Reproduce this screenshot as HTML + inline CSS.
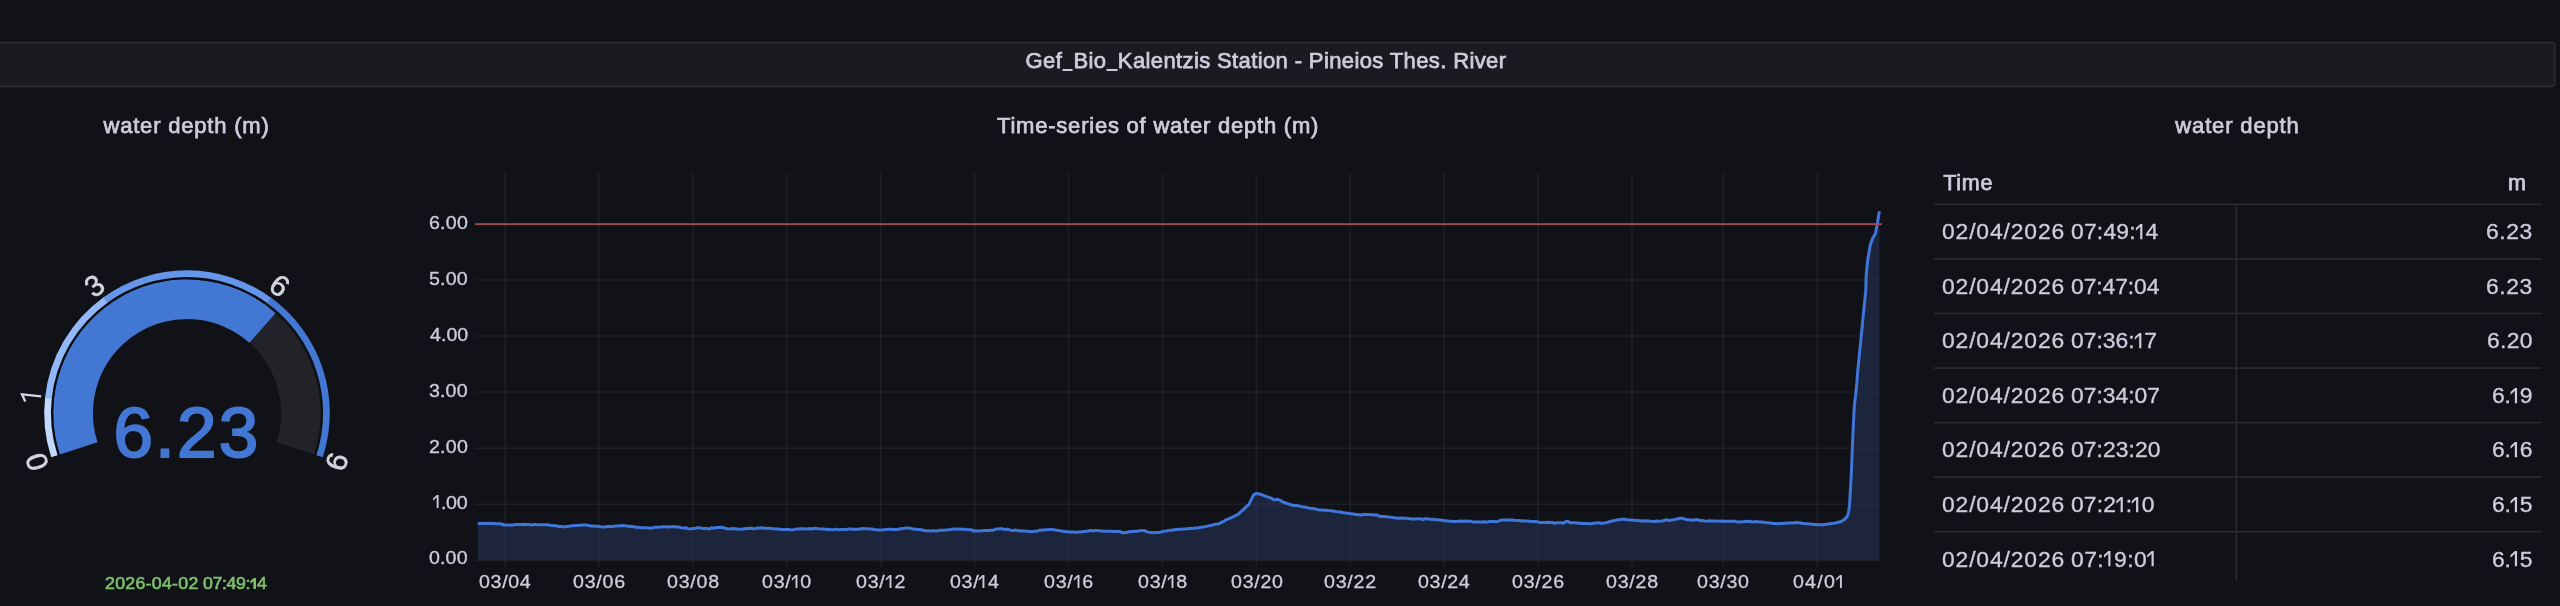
<!DOCTYPE html>
<html><head><meta charset="utf-8"><title>Grafana</title>
<style>
html,body{margin:0;padding:0;background:#111217;}
body{width:2560px;height:606px;position:relative;overflow:hidden;font-family:"Liberation Sans",sans-serif;}
#w{position:absolute;left:0;top:0;width:2560px;height:606px;will-change:transform;}
svg{position:absolute;left:0;top:0;}
svg text{font-family:"Liberation Sans",sans-serif;}
.b{display:inline-block;line-height:0;vertical-align:baseline;}
.u{display:inline-block;width:0.5em;height:0;position:relative;vertical-align:baseline;margin-right:0.38px;}
.u i{position:absolute;left:0.01em;right:0.01em;top:0.04em;height:0.088em;background:currentColor;}
.o{display:inline-block;height:0;position:relative;vertical-align:baseline;}
.o svg{position:absolute;left:0;top:auto;bottom:0;width:100%;overflow:visible;fill:currentColor;}
</style></head><body><div id="w">
<svg width="2560" height="606" viewBox="0 0 2560 606">
<rect x="-23" y="42.5" width="2577.8" height="44" rx="3" fill="#1a1b20" stroke="#2e2f35" stroke-width="1.5"/>
<rect x="475.2" y="559.60" width="1406.8" height="1.6" fill="rgba(235,240,255,0.06)"/>
<rect x="475.2" y="503.50" width="1406.8" height="1.6" fill="rgba(235,240,255,0.06)"/>
<rect x="475.2" y="447.40" width="1406.8" height="1.6" fill="rgba(235,240,255,0.06)"/>
<rect x="475.2" y="391.30" width="1406.8" height="1.6" fill="rgba(235,240,255,0.06)"/>
<rect x="475.2" y="335.20" width="1406.8" height="1.6" fill="rgba(235,240,255,0.06)"/>
<rect x="475.2" y="279.10" width="1406.8" height="1.6" fill="rgba(235,240,255,0.06)"/>
<rect x="475.2" y="223.00" width="1406.8" height="1.6" fill="rgba(235,240,255,0.06)"/>
<rect x="504.17" y="173.2" width="1.6" height="392.8" fill="rgba(235,240,255,0.06)"/>
<rect x="598.09" y="173.2" width="1.6" height="392.8" fill="rgba(235,240,255,0.06)"/>
<rect x="692.01" y="173.2" width="1.6" height="392.8" fill="rgba(235,240,255,0.06)"/>
<rect x="785.93" y="173.2" width="1.6" height="392.8" fill="rgba(235,240,255,0.06)"/>
<rect x="879.85" y="173.2" width="1.6" height="392.8" fill="rgba(235,240,255,0.06)"/>
<rect x="973.77" y="173.2" width="1.6" height="392.8" fill="rgba(235,240,255,0.06)"/>
<rect x="1067.69" y="173.2" width="1.6" height="392.8" fill="rgba(235,240,255,0.06)"/>
<rect x="1161.61" y="173.2" width="1.6" height="392.8" fill="rgba(235,240,255,0.06)"/>
<rect x="1255.53" y="173.2" width="1.6" height="392.8" fill="rgba(235,240,255,0.06)"/>
<rect x="1349.45" y="173.2" width="1.6" height="392.8" fill="rgba(235,240,255,0.06)"/>
<rect x="1443.37" y="173.2" width="1.6" height="392.8" fill="rgba(235,240,255,0.06)"/>
<rect x="1537.29" y="173.2" width="1.6" height="392.8" fill="rgba(235,240,255,0.06)"/>
<rect x="1631.21" y="173.2" width="1.6" height="392.8" fill="rgba(235,240,255,0.06)"/>
<rect x="1722.40" y="173.2" width="1.6" height="392.8" fill="rgba(235,240,255,0.06)"/>
<rect x="1816.30" y="173.2" width="1.6" height="392.8" fill="rgba(235,240,255,0.06)"/>
<path d="M477.8 523.4 L480.4 523.4 L483.1 523.5 L485.3 523.3 L487.7 523.5 L490.1 523.2 L492.1 523.4 L494.3 523.5 L496.7 523.7 L499.1 523.8 L501.6 524.0 L503.9 525.0 L506.6 524.9 L508.6 525.0 L510.7 525.0 L512.9 525.0 L515.2 524.4 L517.1 524.6 L519.5 524.6 L521.9 524.6 L524.2 524.3 L526.1 524.4 L528.9 524.4 L531.0 525.1 L533.3 524.6 L535.9 524.6 L538.1 524.8 L540.3 524.7 L542.9 524.8 L545.1 524.7 L547.9 524.7 L549.9 525.2 L552.0 525.5 L554.4 525.8 L556.7 525.7 L558.5 526.6 L560.4 526.6 L562.3 526.4 L564.5 527.1 L566.4 526.3 L568.2 526.5 L570.2 525.9 L572.1 525.8 L574.4 525.6 L576.9 525.4 L579.4 525.2 L581.6 525.1 L584.1 524.9 L586.3 525.0 L588.6 525.6 L591.2 526.0 L593.3 526.1 L595.3 526.3 L598.0 526.3 L600.8 526.7 L603.6 527.0 L605.6 526.7 L607.6 526.6 L610.3 526.5 L612.7 526.4 L615.3 526.1 L617.9 525.9 L620.6 525.7 L623.2 525.5 L625.1 525.7 L627.1 526.0 L629.5 526.4 L631.4 526.3 L633.7 526.8 L635.7 527.3 L638.1 527.3 L640.0 527.5 L642.3 527.7 L644.6 527.8 L646.4 527.8 L648.2 527.9 L650.5 528.0 L652.6 527.9 L655.2 527.1 L657.0 527.2 L658.8 527.3 L661.0 527.1 L663.0 526.8 L665.6 526.7 L667.9 527.1 L670.1 526.8 L672.3 526.7 L674.3 526.6 L676.8 527.0 L679.0 527.0 L681.3 527.7 L684.1 528.0 L686.3 527.8 L688.4 528.8 L690.8 528.9 L692.9 528.4 L694.8 528.6 L697.5 527.8 L700.1 527.7 L702.3 528.6 L704.7 528.5 L706.7 528.5 L709.4 528.9 L711.3 527.7 L713.4 528.2 L716.2 527.5 L718.7 527.5 L720.8 527.3 L723.2 527.6 L725.4 528.2 L728.2 529.1 L730.5 528.9 L732.6 528.5 L735.0 528.7 L737.8 529.0 L740.4 529.2 L742.6 529.3 L744.6 528.8 L747.0 528.6 L749.8 528.4 L751.6 528.1 L753.5 528.7 L755.5 528.5 L757.7 528.1 L759.9 528.1 L762.2 527.7 L764.4 528.4 L766.5 528.2 L769.1 528.3 L771.8 528.7 L773.9 528.8 L776.5 528.9 L778.7 529.0 L781.4 529.4 L784.0 529.5 L786.5 529.6 L788.4 529.6 L790.3 529.8 L792.7 529.9 L795.0 529.3 L797.3 529.1 L799.1 529.0 L801.0 528.8 L803.0 528.8 L805.3 529.1 L807.9 529.0 L809.8 528.5 L811.9 529.2 L813.7 528.3 L816.2 528.5 L818.5 528.8 L821.2 528.9 L824.0 529.0 L826.6 529.4 L828.7 529.3 L830.7 529.6 L833.4 529.7 L835.7 529.1 L838.0 529.9 L840.3 529.4 L842.2 529.4 L844.9 529.4 L846.8 529.3 L849.5 529.0 L851.7 529.0 L853.9 529.4 L855.7 529.2 L857.7 529.2 L859.8 529.0 L862.0 528.6 L864.4 528.7 L866.9 528.8 L869.3 528.9 L872.1 529.0 L874.2 529.7 L876.3 529.8 L878.6 529.9 L880.6 529.9 L882.9 529.7 L885.1 529.4 L887.0 529.4 L889.1 529.3 L891.7 529.2 L894.0 529.5 L895.8 529.4 L897.7 529.4 L900.4 528.7 L902.6 528.6 L905.3 528.1 L908.0 528.1 L909.8 528.2 L912.4 528.9 L914.3 529.1 L917.1 529.4 L919.6 529.6 L921.5 529.8 L924.2 530.6 L926.5 530.7 L928.4 530.8 L930.4 530.9 L932.2 530.8 L934.3 530.6 L936.7 531.1 L938.9 530.3 L940.9 530.3 L943.1 530.2 L945.6 530.1 L947.8 529.8 L950.4 529.7 L952.4 529.0 L955.1 529.0 L957.5 529.3 L960.2 529.0 L962.3 529.3 L964.1 529.2 L966.8 529.6 L969.6 529.7 L971.6 529.8 L973.4 530.9 L975.7 530.8 L977.5 531.0 L979.9 530.9 L982.5 530.7 L984.4 530.6 L986.6 530.5 L988.9 530.4 L991.3 530.2 L993.6 530.2 L995.6 529.0 L998.3 528.9 L1000.8 528.7 L1002.6 528.8 L1005.1 529.7 L1007.1 529.1 L1009.9 529.9 L1011.8 530.6 L1014.5 530.1 L1016.5 530.2 L1018.7 530.7 L1020.7 530.8 L1023.0 530.9 L1024.9 531.0 L1026.9 531.2 L1029.7 531.4 L1031.9 531.7 L1034.4 531.3 L1036.5 531.3 L1039.0 530.3 L1041.0 530.3 L1043.1 530.0 L1045.4 529.8 L1047.9 529.8 L1050.1 529.6 L1052.2 529.5 L1055.0 529.9 L1057.2 530.2 L1059.2 530.4 L1061.1 531.0 L1063.3 531.2 L1065.1 531.5 L1067.7 531.8 L1069.9 532.0 L1071.7 532.1 L1073.9 532.0 L1076.4 532.2 L1079.2 532.1 L1081.0 531.9 L1083.3 531.6 L1085.9 531.5 L1088.1 530.9 L1090.7 530.6 L1092.9 531.0 L1095.3 530.4 L1097.2 530.5 L1099.5 530.8 L1102.2 530.9 L1104.8 531.2 L1106.7 531.3 L1109.0 531.2 L1111.7 531.3 L1113.7 531.4 L1115.9 531.5 L1117.9 531.5 L1120.2 531.6 L1122.2 532.7 L1124.8 532.5 L1126.7 532.5 L1129.1 531.8 L1131.3 531.6 L1133.3 531.4 L1135.6 531.3 L1138.2 531.2 L1140.4 530.4 L1143.0 530.6 L1144.8 530.7 L1147.0 531.9 L1149.7 532.4 L1151.5 532.4 L1154.0 532.7 L1156.7 532.6 L1159.3 532.6 L1161.3 531.8 L1164.0 531.3 L1165.9 531.0 L1167.9 530.6 L1170.0 530.2 L1172.0 530.2 L1174.7 529.6 L1177.1 529.4 L1179.5 529.3 L1181.4 529.2 L1183.6 529.1 L1185.5 528.9 L1187.6 528.7 L1189.7 528.5 L1192.4 528.5 L1194.4 528.1 L1196.7 527.9 L1199.0 527.7 L1200.8 527.3 L1203.1 527.0 L1205.1 526.6 L1207.0 526.2 L1209.5 525.6 L1212.0 525.2 L1214.8 524.4 L1217.2 523.9 L1219.4 523.7 L1221.3 522.3 L1223.3 521.7 L1225.7 519.9 L1227.9 519.1 L1230.1 518.1 L1232.0 517.3 L1234.5 516.1 L1236.7 515.2 L1238.6 513.9 L1241.3 511.3 L1244.0 509.0 L1246.1 506.7 L1248.6 504.9 L1251.3 499.8 L1253.6 494.8 L1256.3 493.4 L1259.0 493.8 L1261.4 494.7 L1264.1 495.6 L1266.6 496.6 L1269.1 497.4 L1271.1 498.1 L1273.8 499.7 L1275.7 499.8 L1277.7 499.3 L1280.1 500.3 L1282.0 501.6 L1284.3 502.5 L1286.9 503.5 L1288.9 504.0 L1291.7 505.1 L1293.8 505.4 L1296.3 505.4 L1298.1 505.8 L1300.7 506.4 L1303.4 507.1 L1305.8 507.3 L1307.7 507.8 L1310.1 508.2 L1312.5 508.4 L1314.8 508.7 L1316.7 509.4 L1319.3 509.9 L1322.0 510.0 L1324.0 510.2 L1326.0 510.2 L1328.6 510.6 L1330.8 510.8 L1333.4 511.1 L1335.3 511.4 L1338.0 511.9 L1340.7 512.0 L1343.0 512.8 L1345.1 512.9 L1347.6 513.2 L1349.8 513.6 L1351.7 513.8 L1353.8 514.1 L1356.3 514.4 L1358.8 514.8 L1360.8 515.1 L1363.6 514.5 L1365.8 514.6 L1368.3 514.6 L1370.7 514.7 L1372.6 514.8 L1375.1 515.0 L1377.3 515.0 L1379.5 516.3 L1381.9 516.4 L1383.9 516.5 L1386.5 516.8 L1389.0 517.1 L1391.4 517.3 L1394.0 517.7 L1396.0 517.9 L1398.4 518.2 L1401.2 517.9 L1403.5 518.2 L1405.8 518.3 L1408.5 518.4 L1410.9 519.0 L1413.4 519.0 L1415.6 519.1 L1418.1 518.8 L1420.8 518.8 L1422.9 519.5 L1425.1 518.8 L1427.3 518.8 L1429.8 519.2 L1431.8 519.2 L1434.4 519.6 L1436.7 519.7 L1439.5 519.9 L1442.1 520.2 L1444.2 520.7 L1446.8 520.8 L1449.2 521.2 L1451.5 521.3 L1453.6 521.4 L1455.5 521.6 L1457.6 521.5 L1460.0 521.1 L1462.4 521.2 L1464.3 521.2 L1466.6 521.1 L1468.6 521.2 L1470.5 521.2 L1473.1 522.0 L1475.1 522.1 L1477.7 522.1 L1480.0 521.9 L1482.0 521.9 L1484.2 521.8 L1486.5 522.3 L1489.2 521.4 L1491.6 521.4 L1493.9 521.4 L1496.3 521.9 L1498.7 521.1 L1500.8 520.2 L1502.8 520.1 L1504.7 520.0 L1506.8 520.1 L1509.6 519.9 L1511.6 519.7 L1513.8 520.3 L1516.4 520.5 L1518.7 520.5 L1521.2 520.7 L1523.1 521.0 L1525.5 521.0 L1527.4 521.0 L1529.7 521.3 L1532.0 521.4 L1533.9 521.5 L1536.6 521.6 L1539.0 522.2 L1540.9 522.5 L1543.3 522.5 L1545.9 522.5 L1547.7 522.3 L1550.1 522.5 L1552.4 522.5 L1554.7 523.4 L1556.8 522.7 L1559.6 522.7 L1561.5 522.7 L1563.5 523.3 L1566.0 521.6 L1568.2 521.6 L1570.5 522.8 L1573.0 522.7 L1575.6 522.8 L1577.9 523.2 L1579.7 523.1 L1582.2 523.5 L1584.3 523.6 L1587.0 523.5 L1589.5 523.8 L1592.3 523.4 L1594.9 523.1 L1597.1 522.9 L1599.2 522.8 L1601.7 523.5 L1603.5 523.1 L1605.9 522.8 L1608.1 522.2 L1610.1 521.5 L1612.2 520.9 L1614.7 520.5 L1616.7 520.1 L1618.6 519.8 L1621.0 519.4 L1623.5 519.0 L1625.9 519.4 L1628.0 519.7 L1630.5 519.9 L1633.1 520.1 L1635.8 520.5 L1638.1 520.6 L1640.1 520.7 L1642.2 521.0 L1644.6 520.8 L1646.7 521.0 L1649.3 521.0 L1651.5 521.3 L1654.3 521.4 L1656.6 521.1 L1658.9 521.2 L1661.5 521.0 L1663.3 520.8 L1665.2 520.0 L1667.4 520.0 L1669.3 520.6 L1671.2 520.1 L1673.1 519.9 L1675.1 519.4 L1677.1 519.0 L1679.9 518.2 L1682.5 518.3 L1685.0 519.1 L1687.6 519.7 L1689.7 519.8 L1691.6 520.0 L1693.5 520.2 L1695.5 519.6 L1698.1 519.8 L1700.0 520.6 L1702.2 520.6 L1704.9 521.0 L1707.0 521.2 L1709.5 520.8 L1712.0 521.1 L1714.6 521.1 L1716.6 521.1 L1718.7 521.2 L1721.4 521.1 L1723.3 521.3 L1725.3 521.2 L1727.4 521.2 L1729.4 521.2 L1731.6 521.2 L1734.4 521.2 L1736.6 521.8 L1739.2 521.9 L1741.4 521.7 L1743.5 521.7 L1745.8 521.2 L1747.7 521.4 L1749.7 521.3 L1752.3 522.1 L1754.7 521.6 L1757.5 521.8 L1759.5 522.0 L1761.4 522.1 L1763.4 522.3 L1765.7 522.6 L1768.1 522.7 L1770.4 523.1 L1773.0 523.5 L1775.5 523.4 L1778.2 523.7 L1780.5 523.5 L1782.3 523.6 L1784.3 523.3 L1786.9 523.2 L1789.4 522.8 L1791.8 522.9 L1793.7 522.9 L1795.5 522.6 L1797.8 522.8 L1799.8 522.8 L1801.7 523.3 L1804.3 523.6 L1806.6 523.8 L1808.8 524.1 L1810.9 524.1 L1813.1 524.5 L1815.0 524.6 L1817.7 524.7 L1820.1 524.6 L1822.0 525.1 L1824.0 524.4 L1826.7 524.3 L1829.4 523.8 L1832.1 523.6 L1834.7 523.1 L1836.5 522.8 L1838.4 522.3 L1841.1 521.5 L1844.0 519.8 L1846.0 517.9 L1847.6 515.5 L1848.5 512.9 L1849.6 504.7 L1850.6 486.5 L1851.5 470.0 L1851.9 459.3 L1852.9 434.5 L1854.3 406.5 L1856.7 385.0 L1857.6 372.5 L1860.9 339.5 L1863.3 314.8 L1865.8 290.0 L1866.1 277.5 L1867.5 261.0 L1870.4 244.5 L1872.5 238.5 L1875.4 233.8 L1877.4 223.0 L1879.4 211.2 L1879.4 559.8 L477.8 559.8 Z" fill="rgb(39,55,98)" fill-opacity="0.5"/>
<path d="M477.8 523.4 L480.4 523.4 L483.1 523.5 L485.3 523.3 L487.7 523.5 L490.1 523.2 L492.1 523.4 L494.3 523.5 L496.7 523.7 L499.1 523.8 L501.6 524.0 L503.9 525.0 L506.6 524.9 L508.6 525.0 L510.7 525.0 L512.9 525.0 L515.2 524.4 L517.1 524.6 L519.5 524.6 L521.9 524.6 L524.2 524.3 L526.1 524.4 L528.9 524.4 L531.0 525.1 L533.3 524.6 L535.9 524.6 L538.1 524.8 L540.3 524.7 L542.9 524.8 L545.1 524.7 L547.9 524.7 L549.9 525.2 L552.0 525.5 L554.4 525.8 L556.7 525.7 L558.5 526.6 L560.4 526.6 L562.3 526.4 L564.5 527.1 L566.4 526.3 L568.2 526.5 L570.2 525.9 L572.1 525.8 L574.4 525.6 L576.9 525.4 L579.4 525.2 L581.6 525.1 L584.1 524.9 L586.3 525.0 L588.6 525.6 L591.2 526.0 L593.3 526.1 L595.3 526.3 L598.0 526.3 L600.8 526.7 L603.6 527.0 L605.6 526.7 L607.6 526.6 L610.3 526.5 L612.7 526.4 L615.3 526.1 L617.9 525.9 L620.6 525.7 L623.2 525.5 L625.1 525.7 L627.1 526.0 L629.5 526.4 L631.4 526.3 L633.7 526.8 L635.7 527.3 L638.1 527.3 L640.0 527.5 L642.3 527.7 L644.6 527.8 L646.4 527.8 L648.2 527.9 L650.5 528.0 L652.6 527.9 L655.2 527.1 L657.0 527.2 L658.8 527.3 L661.0 527.1 L663.0 526.8 L665.6 526.7 L667.9 527.1 L670.1 526.8 L672.3 526.7 L674.3 526.6 L676.8 527.0 L679.0 527.0 L681.3 527.7 L684.1 528.0 L686.3 527.8 L688.4 528.8 L690.8 528.9 L692.9 528.4 L694.8 528.6 L697.5 527.8 L700.1 527.7 L702.3 528.6 L704.7 528.5 L706.7 528.5 L709.4 528.9 L711.3 527.7 L713.4 528.2 L716.2 527.5 L718.7 527.5 L720.8 527.3 L723.2 527.6 L725.4 528.2 L728.2 529.1 L730.5 528.9 L732.6 528.5 L735.0 528.7 L737.8 529.0 L740.4 529.2 L742.6 529.3 L744.6 528.8 L747.0 528.6 L749.8 528.4 L751.6 528.1 L753.5 528.7 L755.5 528.5 L757.7 528.1 L759.9 528.1 L762.2 527.7 L764.4 528.4 L766.5 528.2 L769.1 528.3 L771.8 528.7 L773.9 528.8 L776.5 528.9 L778.7 529.0 L781.4 529.4 L784.0 529.5 L786.5 529.6 L788.4 529.6 L790.3 529.8 L792.7 529.9 L795.0 529.3 L797.3 529.1 L799.1 529.0 L801.0 528.8 L803.0 528.8 L805.3 529.1 L807.9 529.0 L809.8 528.5 L811.9 529.2 L813.7 528.3 L816.2 528.5 L818.5 528.8 L821.2 528.9 L824.0 529.0 L826.6 529.4 L828.7 529.3 L830.7 529.6 L833.4 529.7 L835.7 529.1 L838.0 529.9 L840.3 529.4 L842.2 529.4 L844.9 529.4 L846.8 529.3 L849.5 529.0 L851.7 529.0 L853.9 529.4 L855.7 529.2 L857.7 529.2 L859.8 529.0 L862.0 528.6 L864.4 528.7 L866.9 528.8 L869.3 528.9 L872.1 529.0 L874.2 529.7 L876.3 529.8 L878.6 529.9 L880.6 529.9 L882.9 529.7 L885.1 529.4 L887.0 529.4 L889.1 529.3 L891.7 529.2 L894.0 529.5 L895.8 529.4 L897.7 529.4 L900.4 528.7 L902.6 528.6 L905.3 528.1 L908.0 528.1 L909.8 528.2 L912.4 528.9 L914.3 529.1 L917.1 529.4 L919.6 529.6 L921.5 529.8 L924.2 530.6 L926.5 530.7 L928.4 530.8 L930.4 530.9 L932.2 530.8 L934.3 530.6 L936.7 531.1 L938.9 530.3 L940.9 530.3 L943.1 530.2 L945.6 530.1 L947.8 529.8 L950.4 529.7 L952.4 529.0 L955.1 529.0 L957.5 529.3 L960.2 529.0 L962.3 529.3 L964.1 529.2 L966.8 529.6 L969.6 529.7 L971.6 529.8 L973.4 530.9 L975.7 530.8 L977.5 531.0 L979.9 530.9 L982.5 530.7 L984.4 530.6 L986.6 530.5 L988.9 530.4 L991.3 530.2 L993.6 530.2 L995.6 529.0 L998.3 528.9 L1000.8 528.7 L1002.6 528.8 L1005.1 529.7 L1007.1 529.1 L1009.9 529.9 L1011.8 530.6 L1014.5 530.1 L1016.5 530.2 L1018.7 530.7 L1020.7 530.8 L1023.0 530.9 L1024.9 531.0 L1026.9 531.2 L1029.7 531.4 L1031.9 531.7 L1034.4 531.3 L1036.5 531.3 L1039.0 530.3 L1041.0 530.3 L1043.1 530.0 L1045.4 529.8 L1047.9 529.8 L1050.1 529.6 L1052.2 529.5 L1055.0 529.9 L1057.2 530.2 L1059.2 530.4 L1061.1 531.0 L1063.3 531.2 L1065.1 531.5 L1067.7 531.8 L1069.9 532.0 L1071.7 532.1 L1073.9 532.0 L1076.4 532.2 L1079.2 532.1 L1081.0 531.9 L1083.3 531.6 L1085.9 531.5 L1088.1 530.9 L1090.7 530.6 L1092.9 531.0 L1095.3 530.4 L1097.2 530.5 L1099.5 530.8 L1102.2 530.9 L1104.8 531.2 L1106.7 531.3 L1109.0 531.2 L1111.7 531.3 L1113.7 531.4 L1115.9 531.5 L1117.9 531.5 L1120.2 531.6 L1122.2 532.7 L1124.8 532.5 L1126.7 532.5 L1129.1 531.8 L1131.3 531.6 L1133.3 531.4 L1135.6 531.3 L1138.2 531.2 L1140.4 530.4 L1143.0 530.6 L1144.8 530.7 L1147.0 531.9 L1149.7 532.4 L1151.5 532.4 L1154.0 532.7 L1156.7 532.6 L1159.3 532.6 L1161.3 531.8 L1164.0 531.3 L1165.9 531.0 L1167.9 530.6 L1170.0 530.2 L1172.0 530.2 L1174.7 529.6 L1177.1 529.4 L1179.5 529.3 L1181.4 529.2 L1183.6 529.1 L1185.5 528.9 L1187.6 528.7 L1189.7 528.5 L1192.4 528.5 L1194.4 528.1 L1196.7 527.9 L1199.0 527.7 L1200.8 527.3 L1203.1 527.0 L1205.1 526.6 L1207.0 526.2 L1209.5 525.6 L1212.0 525.2 L1214.8 524.4 L1217.2 523.9 L1219.4 523.7 L1221.3 522.3 L1223.3 521.7 L1225.7 519.9 L1227.9 519.1 L1230.1 518.1 L1232.0 517.3 L1234.5 516.1 L1236.7 515.2 L1238.6 513.9 L1241.3 511.3 L1244.0 509.0 L1246.1 506.7 L1248.6 504.9 L1251.3 499.8 L1253.6 494.8 L1256.3 493.4 L1259.0 493.8 L1261.4 494.7 L1264.1 495.6 L1266.6 496.6 L1269.1 497.4 L1271.1 498.1 L1273.8 499.7 L1275.7 499.8 L1277.7 499.3 L1280.1 500.3 L1282.0 501.6 L1284.3 502.5 L1286.9 503.5 L1288.9 504.0 L1291.7 505.1 L1293.8 505.4 L1296.3 505.4 L1298.1 505.8 L1300.7 506.4 L1303.4 507.1 L1305.8 507.3 L1307.7 507.8 L1310.1 508.2 L1312.5 508.4 L1314.8 508.7 L1316.7 509.4 L1319.3 509.9 L1322.0 510.0 L1324.0 510.2 L1326.0 510.2 L1328.6 510.6 L1330.8 510.8 L1333.4 511.1 L1335.3 511.4 L1338.0 511.9 L1340.7 512.0 L1343.0 512.8 L1345.1 512.9 L1347.6 513.2 L1349.8 513.6 L1351.7 513.8 L1353.8 514.1 L1356.3 514.4 L1358.8 514.8 L1360.8 515.1 L1363.6 514.5 L1365.8 514.6 L1368.3 514.6 L1370.7 514.7 L1372.6 514.8 L1375.1 515.0 L1377.3 515.0 L1379.5 516.3 L1381.9 516.4 L1383.9 516.5 L1386.5 516.8 L1389.0 517.1 L1391.4 517.3 L1394.0 517.7 L1396.0 517.9 L1398.4 518.2 L1401.2 517.9 L1403.5 518.2 L1405.8 518.3 L1408.5 518.4 L1410.9 519.0 L1413.4 519.0 L1415.6 519.1 L1418.1 518.8 L1420.8 518.8 L1422.9 519.5 L1425.1 518.8 L1427.3 518.8 L1429.8 519.2 L1431.8 519.2 L1434.4 519.6 L1436.7 519.7 L1439.5 519.9 L1442.1 520.2 L1444.2 520.7 L1446.8 520.8 L1449.2 521.2 L1451.5 521.3 L1453.6 521.4 L1455.5 521.6 L1457.6 521.5 L1460.0 521.1 L1462.4 521.2 L1464.3 521.2 L1466.6 521.1 L1468.6 521.2 L1470.5 521.2 L1473.1 522.0 L1475.1 522.1 L1477.7 522.1 L1480.0 521.9 L1482.0 521.9 L1484.2 521.8 L1486.5 522.3 L1489.2 521.4 L1491.6 521.4 L1493.9 521.4 L1496.3 521.9 L1498.7 521.1 L1500.8 520.2 L1502.8 520.1 L1504.7 520.0 L1506.8 520.1 L1509.6 519.9 L1511.6 519.7 L1513.8 520.3 L1516.4 520.5 L1518.7 520.5 L1521.2 520.7 L1523.1 521.0 L1525.5 521.0 L1527.4 521.0 L1529.7 521.3 L1532.0 521.4 L1533.9 521.5 L1536.6 521.6 L1539.0 522.2 L1540.9 522.5 L1543.3 522.5 L1545.9 522.5 L1547.7 522.3 L1550.1 522.5 L1552.4 522.5 L1554.7 523.4 L1556.8 522.7 L1559.6 522.7 L1561.5 522.7 L1563.5 523.3 L1566.0 521.6 L1568.2 521.6 L1570.5 522.8 L1573.0 522.7 L1575.6 522.8 L1577.9 523.2 L1579.7 523.1 L1582.2 523.5 L1584.3 523.6 L1587.0 523.5 L1589.5 523.8 L1592.3 523.4 L1594.9 523.1 L1597.1 522.9 L1599.2 522.8 L1601.7 523.5 L1603.5 523.1 L1605.9 522.8 L1608.1 522.2 L1610.1 521.5 L1612.2 520.9 L1614.7 520.5 L1616.7 520.1 L1618.6 519.8 L1621.0 519.4 L1623.5 519.0 L1625.9 519.4 L1628.0 519.7 L1630.5 519.9 L1633.1 520.1 L1635.8 520.5 L1638.1 520.6 L1640.1 520.7 L1642.2 521.0 L1644.6 520.8 L1646.7 521.0 L1649.3 521.0 L1651.5 521.3 L1654.3 521.4 L1656.6 521.1 L1658.9 521.2 L1661.5 521.0 L1663.3 520.8 L1665.2 520.0 L1667.4 520.0 L1669.3 520.6 L1671.2 520.1 L1673.1 519.9 L1675.1 519.4 L1677.1 519.0 L1679.9 518.2 L1682.5 518.3 L1685.0 519.1 L1687.6 519.7 L1689.7 519.8 L1691.6 520.0 L1693.5 520.2 L1695.5 519.6 L1698.1 519.8 L1700.0 520.6 L1702.2 520.6 L1704.9 521.0 L1707.0 521.2 L1709.5 520.8 L1712.0 521.1 L1714.6 521.1 L1716.6 521.1 L1718.7 521.2 L1721.4 521.1 L1723.3 521.3 L1725.3 521.2 L1727.4 521.2 L1729.4 521.2 L1731.6 521.2 L1734.4 521.2 L1736.6 521.8 L1739.2 521.9 L1741.4 521.7 L1743.5 521.7 L1745.8 521.2 L1747.7 521.4 L1749.7 521.3 L1752.3 522.1 L1754.7 521.6 L1757.5 521.8 L1759.5 522.0 L1761.4 522.1 L1763.4 522.3 L1765.7 522.6 L1768.1 522.7 L1770.4 523.1 L1773.0 523.5 L1775.5 523.4 L1778.2 523.7 L1780.5 523.5 L1782.3 523.6 L1784.3 523.3 L1786.9 523.2 L1789.4 522.8 L1791.8 522.9 L1793.7 522.9 L1795.5 522.6 L1797.8 522.8 L1799.8 522.8 L1801.7 523.3 L1804.3 523.6 L1806.6 523.8 L1808.8 524.1 L1810.9 524.1 L1813.1 524.5 L1815.0 524.6 L1817.7 524.7 L1820.1 524.6 L1822.0 525.1 L1824.0 524.4 L1826.7 524.3 L1829.4 523.8 L1832.1 523.6 L1834.7 523.1 L1836.5 522.8 L1838.4 522.3 L1841.1 521.5 L1844.0 519.8 L1846.0 517.9 L1847.6 515.5 L1848.5 512.9 L1849.6 504.7 L1850.6 486.5 L1851.5 470.0 L1851.9 459.3 L1852.9 434.5 L1854.3 406.5 L1856.7 385.0 L1857.6 372.5 L1860.9 339.5 L1863.3 314.8 L1865.8 290.0 L1866.1 277.5 L1867.5 261.0 L1870.4 244.5 L1872.5 238.5 L1875.4 233.8 L1877.4 223.0 L1879.4 211.2" fill="none" stroke="#3f76d9" stroke-width="3.0" stroke-linejoin="round" stroke-linecap="butt"/>
<rect x="475" y="223.2" width="1406.8" height="1.9" fill="#a04b52"/>
<path d="M59.75 454.45 A133.8 133.8 0 1 1 314.25 454.45 L276.49 442.18 A94.1 94.1 0 1 0 97.51 442.18 Z" fill="#222328"/>
<path d="M59.75 454.45 A133.8 133.8 0 0 1 275.69 312.92 L249.38 342.65 A94.1 94.1 0 0 0 97.51 442.18 Z" fill="#4377d4"/>
<path d="M57.56 455.16 A136.1 136.1 0 0 1 277.22 311.20 L275.69 312.92 A133.8 133.8 0 0 0 59.75 454.45 Z" fill="#0c0d10"/>
<path d="M277.22 311.20 A136.1 136.1 0 0 1 316.44 455.16 L314.25 454.45 A133.8 133.8 0 0 0 275.69 312.92 Z" fill="#0f1014"/>
<path d="M51.19 457.23 A142.8 142.8 0 0 1 45.15 396.69 L51.80 397.46 A136.1 136.1 0 0 0 57.56 455.16 Z" fill="#c3d8fd"/>
<path d="M44.98 398.17 A142.8 142.8 0 0 1 104.28 296.70 L108.16 302.16 A136.1 136.1 0 0 0 51.65 398.87 Z" fill="#92b8f8"/>
<path d="M103.06 297.57 A142.8 142.8 0 0 1 272.14 298.46 L268.15 303.84 A136.1 136.1 0 0 0 107.00 302.99 Z" fill="#6596ec"/>
<path d="M270.94 297.57 A142.8 142.8 0 0 1 322.81 457.23 L316.44 455.16 A136.1 136.1 0 0 0 267.00 302.99 Z" fill="#4377d4"/>
<text x="0" y="0" transform="translate(36.73 461.92) rotate(252.0)" text-anchor="middle" dy="0.36em" font-size="29.5" fill="#d4d4e0" stroke="#d4d4e0" stroke-width="0.6">0</text>
<path transform="translate(29.87 396.58) rotate(276.0)" d="M-5.5 -4.0 L1.4 -8.0 L1.4 11.2" fill="none" stroke="#d4d4e0" stroke-width="2.4" stroke-linejoin="miter"/>
<text x="0" y="0" transform="translate(94.13 285.28) rotate(324.0)" text-anchor="middle" dy="0.36em" font-size="29.5" fill="#d4d4e0" stroke="#d4d4e0" stroke-width="0.6">3</text>
<text x="0" y="0" transform="translate(279.87 285.28) rotate(396.0)" text-anchor="middle" dy="0.36em" font-size="29.5" fill="#d4d4e0" stroke="#d4d4e0" stroke-width="0.6">6</text>
<text x="0" y="0" transform="translate(337.27 461.92) rotate(468.0)" text-anchor="middle" dy="0.36em" font-size="29.5" fill="#d4d4e0" stroke="#d4d4e0" stroke-width="0.6">9</text>
<text x="186.9" y="457.4" text-anchor="middle" font-size="71" fill="#4377d4" stroke="#4377d4" stroke-width="2" letter-spacing="2.2" >6.23</text>
<rect x="1933.5" y="203.65" width="607.9" height="1.5" fill="#2b2d33"/>
<rect x="1933.5" y="258.20" width="607.9" height="1.5" fill="#2b2d33"/>
<rect x="1933.5" y="312.75" width="607.9" height="1.5" fill="#2b2d33"/>
<rect x="1933.5" y="367.30" width="607.9" height="1.5" fill="#2b2d33"/>
<rect x="1933.5" y="421.85" width="607.9" height="1.5" fill="#2b2d33"/>
<rect x="1933.5" y="476.40" width="607.9" height="1.5" fill="#2b2d33"/>
<rect x="1933.5" y="530.95" width="607.9" height="1.5" fill="#2b2d33"/>
<rect x="2235.65" y="204.4" width="1.5" height="376.3" fill="#2b2d33"/>
</svg>
<div style="position:absolute;top:60.78px;font-size:22px;letter-spacing:0.38px;color:#ccccdc;font-weight:normal;white-space:nowrap;line-height:0;-webkit-text-stroke:0.75px #ccccdc;left:1266.00px;transform:translateX(-50%);"><span class="b">Gef<i class="u"><i></i></i>Bio<i class="u"><i></i></i>Kalentzis Station - Pineios Thes. River</span></div>
<div style="position:absolute;top:125.58px;font-size:22px;letter-spacing:0.8px;color:#ccccdc;font-weight:normal;white-space:nowrap;line-height:0;-webkit-text-stroke:0.75px #ccccdc;left:186.50px;transform:translateX(-50%);"><span class="b">water depth (m)</span></div>
<div style="position:absolute;top:125.58px;font-size:22px;letter-spacing:0.78px;color:#ccccdc;font-weight:normal;white-space:nowrap;line-height:0;-webkit-text-stroke:0.75px #ccccdc;left:1158.10px;transform:translateX(-50%);"><span class="b">Time-series of water depth (m)</span></div>
<div style="position:absolute;top:125.58px;font-size:22px;letter-spacing:0.85px;color:#ccccdc;font-weight:normal;white-space:nowrap;line-height:0;-webkit-text-stroke:0.75px #ccccdc;left:2237.50px;transform:translateX(-50%);"><span class="b">water depth</span></div>
<div style="position:absolute;top:183.25px;font-size:21.5px;letter-spacing:0.7px;color:#ccccdc;font-weight:normal;white-space:nowrap;line-height:0;-webkit-text-stroke:0.75px #ccccdc;left:1943.30px;"><span class="b">Time</span></div>
<div style="position:absolute;top:183.25px;font-size:21.5px;letter-spacing:0px;color:#ccccdc;font-weight:normal;white-space:nowrap;line-height:0;-webkit-text-stroke:0.75px #ccccdc;right:34.00px;"><span class="b">m</span></div>
<div style="position:absolute;top:232.01px;left:1942.19px;font-size:22.20px;letter-spacing:0.843px;color:#ccccdc;white-space:nowrap;line-height:0;font-kerning:none;transform-origin:0 50%;transform:scaleX(1.03);font-weight:normal;-webkit-text-stroke:0.35px #ccccdc;"><span class="b">02/04/2026</span></div>
<div style="position:absolute;top:232.01px;left:2071.09px;font-size:22.20px;letter-spacing:0.204px;color:#ccccdc;white-space:nowrap;line-height:0;font-kerning:none;transform-origin:0 50%;transform:scaleX(1.03);font-weight:normal;-webkit-text-stroke:0.35px #ccccdc;"><span class="b">07:49:<i class="o" style="width:0.4133em;margin-right:0.204px"><svg viewBox="4 0 45 72.7" preserveAspectRatio="none" style="height:0.6878em"><path d="M35 0 L35 72.7 L24.5 72.7 L24.5 13 L4 32 L4 19.5 L25 0 Z"/></svg></i>4</span></div>
<div style="position:absolute;top:232.01px;left:2486.32px;font-size:22.20px;letter-spacing:0.520px;color:#ccccdc;white-space:nowrap;line-height:0;font-kerning:none;transform-origin:0 50%;transform:scaleX(1.03);font-weight:normal;-webkit-text-stroke:0.35px #ccccdc;"><span class="b">6.23</span></div>
<div style="position:absolute;top:286.61px;left:1942.19px;font-size:22.20px;letter-spacing:0.843px;color:#ccccdc;white-space:nowrap;line-height:0;font-kerning:none;transform-origin:0 50%;transform:scaleX(1.03);font-weight:normal;-webkit-text-stroke:0.35px #ccccdc;"><span class="b">02/04/2026</span></div>
<div style="position:absolute;top:286.61px;left:2071.09px;font-size:22.20px;letter-spacing:-0.068px;color:#ccccdc;white-space:nowrap;line-height:0;font-kerning:none;transform-origin:0 50%;transform:scaleX(1.03);font-weight:normal;-webkit-text-stroke:0.35px #ccccdc;"><span class="b">07:47:04</span></div>
<div style="position:absolute;top:286.61px;left:2486.32px;font-size:22.20px;letter-spacing:0.520px;color:#ccccdc;white-space:nowrap;line-height:0;font-kerning:none;transform-origin:0 50%;transform:scaleX(1.03);font-weight:normal;-webkit-text-stroke:0.35px #ccccdc;"><span class="b">6.23</span></div>
<div style="position:absolute;top:341.21px;left:1942.19px;font-size:22.20px;letter-spacing:0.843px;color:#ccccdc;white-space:nowrap;line-height:0;font-kerning:none;transform-origin:0 50%;transform:scaleX(1.03);font-weight:normal;-webkit-text-stroke:0.35px #ccccdc;"><span class="b">02/04/2026</span></div>
<div style="position:absolute;top:341.21px;left:2071.09px;font-size:22.20px;letter-spacing:0.021px;color:#ccccdc;white-space:nowrap;line-height:0;font-kerning:none;transform-origin:0 50%;transform:scaleX(1.03);font-weight:normal;-webkit-text-stroke:0.35px #ccccdc;"><span class="b">07:36:<i class="o" style="width:0.4133em;margin-right:0.021px"><svg viewBox="4 0 45 72.7" preserveAspectRatio="none" style="height:0.6878em"><path d="M35 0 L35 72.7 L24.5 72.7 L24.5 13 L4 32 L4 19.5 L25 0 Z"/></svg></i>7</span></div>
<div style="position:absolute;top:341.21px;left:2486.82px;font-size:22.20px;letter-spacing:0.322px;color:#ccccdc;white-space:nowrap;line-height:0;font-kerning:none;transform-origin:0 50%;transform:scaleX(1.03);font-weight:normal;-webkit-text-stroke:0.35px #ccccdc;"><span class="b">6.20</span></div>
<div style="position:absolute;top:395.81px;left:1942.19px;font-size:22.20px;letter-spacing:0.843px;color:#ccccdc;white-space:nowrap;line-height:0;font-kerning:none;transform-origin:0 50%;transform:scaleX(1.03);font-weight:normal;-webkit-text-stroke:0.35px #ccccdc;"><span class="b">02/04/2026</span></div>
<div style="position:absolute;top:395.81px;left:2071.09px;font-size:22.20px;letter-spacing:-0.002px;color:#ccccdc;white-space:nowrap;line-height:0;font-kerning:none;transform-origin:0 50%;transform:scaleX(1.03);font-weight:normal;-webkit-text-stroke:0.35px #ccccdc;"><span class="b">07:34:07</span></div>
<div style="position:absolute;top:395.81px;left:2491.92px;font-size:22.20px;letter-spacing:-0.210px;color:#ccccdc;white-space:nowrap;line-height:0;font-kerning:none;transform-origin:0 50%;transform:scaleX(1.03);font-weight:normal;-webkit-text-stroke:0.35px #ccccdc;"><span class="b">6.<i class="o" style="width:0.4133em;margin-right:-0.210px"><svg viewBox="4 0 45 72.7" preserveAspectRatio="none" style="height:0.6878em"><path d="M35 0 L35 72.7 L24.5 72.7 L24.5 13 L4 32 L4 19.5 L25 0 Z"/></svg></i>9</span></div>
<div style="position:absolute;top:450.41px;left:1942.19px;font-size:22.20px;letter-spacing:0.843px;color:#ccccdc;white-space:nowrap;line-height:0;font-kerning:none;transform-origin:0 50%;transform:scaleX(1.03);font-weight:normal;-webkit-text-stroke:0.35px #ccccdc;"><span class="b">02/04/2026</span></div>
<div style="position:absolute;top:450.41px;left:2071.09px;font-size:22.20px;letter-spacing:0.074px;color:#ccccdc;white-space:nowrap;line-height:0;font-kerning:none;transform-origin:0 50%;transform:scaleX(1.03);font-weight:normal;-webkit-text-stroke:0.35px #ccccdc;"><span class="b">07:23:20</span></div>
<div style="position:absolute;top:450.41px;left:2491.92px;font-size:22.20px;letter-spacing:-0.235px;color:#ccccdc;white-space:nowrap;line-height:0;font-kerning:none;transform-origin:0 50%;transform:scaleX(1.03);font-weight:normal;-webkit-text-stroke:0.35px #ccccdc;"><span class="b">6.<i class="o" style="width:0.4133em;margin-right:-0.235px"><svg viewBox="4 0 45 72.7" preserveAspectRatio="none" style="height:0.6878em"><path d="M35 0 L35 72.7 L24.5 72.7 L24.5 13 L4 32 L4 19.5 L25 0 Z"/></svg></i>6</span></div>
<div style="position:absolute;top:505.01px;left:1942.19px;font-size:22.20px;letter-spacing:0.843px;color:#ccccdc;white-space:nowrap;line-height:0;font-kerning:none;transform-origin:0 50%;transform:scaleX(1.03);font-weight:normal;-webkit-text-stroke:0.35px #ccccdc;"><span class="b">02/04/2026</span></div>
<div style="position:absolute;top:505.01px;left:2071.09px;font-size:22.20px;letter-spacing:0.147px;color:#ccccdc;white-space:nowrap;line-height:0;font-kerning:none;transform-origin:0 50%;transform:scaleX(1.03);font-weight:normal;-webkit-text-stroke:0.35px #ccccdc;"><span class="b">07:2<i class="o" style="width:0.4133em;margin-right:0.147px"><svg viewBox="4 0 45 72.7" preserveAspectRatio="none" style="height:0.6878em"><path d="M35 0 L35 72.7 L24.5 72.7 L24.5 13 L4 32 L4 19.5 L25 0 Z"/></svg></i>:<i class="o" style="width:0.4133em;margin-right:0.147px"><svg viewBox="4 0 45 72.7" preserveAspectRatio="none" style="height:0.6878em"><path d="M35 0 L35 72.7 L24.5 72.7 L24.5 13 L4 32 L4 19.5 L25 0 Z"/></svg></i>0</span></div>
<div style="position:absolute;top:505.01px;left:2491.92px;font-size:22.20px;letter-spacing:-0.250px;color:#ccccdc;white-space:nowrap;line-height:0;font-kerning:none;transform-origin:0 50%;transform:scaleX(1.03);font-weight:normal;-webkit-text-stroke:0.35px #ccccdc;"><span class="b">6.<i class="o" style="width:0.4133em;margin-right:-0.250px"><svg viewBox="4 0 45 72.7" preserveAspectRatio="none" style="height:0.6878em"><path d="M35 0 L35 72.7 L24.5 72.7 L24.5 13 L4 32 L4 19.5 L25 0 Z"/></svg></i>5</span></div>
<div style="position:absolute;top:559.61px;left:1942.19px;font-size:22.20px;letter-spacing:0.843px;color:#ccccdc;white-space:nowrap;line-height:0;font-kerning:none;transform-origin:0 50%;transform:scaleX(1.03);font-weight:normal;-webkit-text-stroke:0.35px #ccccdc;"><span class="b">02/04/2026</span></div>
<div style="position:absolute;top:559.61px;left:2071.09px;font-size:22.20px;letter-spacing:0.456px;color:#ccccdc;white-space:nowrap;line-height:0;font-kerning:none;transform-origin:0 50%;transform:scaleX(1.03);font-weight:normal;-webkit-text-stroke:0.35px #ccccdc;"><span class="b">07:<i class="o" style="width:0.4133em;margin-right:0.456px"><svg viewBox="4 0 45 72.7" preserveAspectRatio="none" style="height:0.6878em"><path d="M35 0 L35 72.7 L24.5 72.7 L24.5 13 L4 32 L4 19.5 L25 0 Z"/></svg></i>9:0<i class="o" style="width:0.4133em;margin-right:0.456px"><svg viewBox="4 0 45 72.7" preserveAspectRatio="none" style="height:0.6878em"><path d="M35 0 L35 72.7 L24.5 72.7 L24.5 13 L4 32 L4 19.5 L25 0 Z"/></svg></i></span></div>
<div style="position:absolute;top:559.61px;left:2491.92px;font-size:22.20px;letter-spacing:-0.250px;color:#ccccdc;white-space:nowrap;line-height:0;font-kerning:none;transform-origin:0 50%;transform:scaleX(1.03);font-weight:normal;-webkit-text-stroke:0.35px #ccccdc;"><span class="b">6.<i class="o" style="width:0.4133em;margin-right:-0.250px"><svg viewBox="4 0 45 72.7" preserveAspectRatio="none" style="height:0.6878em"><path d="M35 0 L35 72.7 L24.5 72.7 L24.5 13 L4 32 L4 19.5 L25 0 Z"/></svg></i>5</span></div>
<div style="position:absolute;top:558.41px;left:429.41px;font-size:19.03px;letter-spacing:0.139px;color:#ccccdc;white-space:nowrap;line-height:0;font-kerning:none;transform-origin:0 50%;transform:scaleX(1.03);font-weight:normal;-webkit-text-stroke:0.35px #ccccdc;"><span class="b">0.00</span></div>
<div style="position:absolute;top:502.51px;left:433.30px;font-size:19.03px;letter-spacing:-0.213px;color:#ccccdc;white-space:nowrap;line-height:0;font-kerning:none;transform-origin:0 50%;transform:scaleX(1.03);font-weight:normal;-webkit-text-stroke:0.35px #ccccdc;"><span class="b"><i class="o" style="width:0.4133em;margin-right:-0.213px"><svg viewBox="4 0 45 72.7" preserveAspectRatio="none" style="height:0.6878em"><path d="M35 0 L35 72.7 L24.5 72.7 L24.5 13 L4 32 L4 19.5 L25 0 Z"/></svg></i>.00</span></div>
<div style="position:absolute;top:446.61px;left:429.19px;font-size:19.03px;letter-spacing:0.210px;color:#ccccdc;white-space:nowrap;line-height:0;font-kerning:none;transform-origin:0 50%;transform:scaleX(1.03);font-weight:normal;-webkit-text-stroke:0.35px #ccccdc;"><span class="b">2.00</span></div>
<div style="position:absolute;top:390.71px;left:429.43px;font-size:19.03px;letter-spacing:0.133px;color:#ccccdc;white-space:nowrap;line-height:0;font-kerning:none;transform-origin:0 50%;transform:scaleX(1.03);font-weight:normal;-webkit-text-stroke:0.35px #ccccdc;"><span class="b">3.00</span></div>
<div style="position:absolute;top:334.81px;left:429.73px;font-size:19.03px;letter-spacing:0.037px;color:#ccccdc;white-space:nowrap;line-height:0;font-kerning:none;transform-origin:0 50%;transform:scaleX(1.03);font-weight:normal;-webkit-text-stroke:0.35px #ccccdc;"><span class="b">4.00</span></div>
<div style="position:absolute;top:278.91px;left:429.40px;font-size:19.03px;letter-spacing:0.145px;color:#ccccdc;white-space:nowrap;line-height:0;font-kerning:none;transform-origin:0 50%;transform:scaleX(1.03);font-weight:normal;-webkit-text-stroke:0.35px #ccccdc;"><span class="b">5.00</span></div>
<div style="position:absolute;top:223.01px;left:429.19px;font-size:19.03px;letter-spacing:0.213px;color:#ccccdc;white-space:nowrap;line-height:0;font-kerning:none;transform-origin:0 50%;transform:scaleX(1.03);font-weight:normal;-webkit-text-stroke:0.35px #ccccdc;"><span class="b">6.00</span></div>
<div style="position:absolute;top:581.81px;left:479.18px;font-size:19.03px;letter-spacing:0.665px;color:#ccccdc;white-space:nowrap;line-height:0;font-kerning:none;transform-origin:0 50%;transform:scaleX(1.03);font-weight:normal;-webkit-text-stroke:0.35px #ccccdc;"><span class="b">03/04</span></div>
<div style="position:absolute;top:581.81px;left:573.10px;font-size:19.03px;letter-spacing:0.735px;color:#ccccdc;white-space:nowrap;line-height:0;font-kerning:none;transform-origin:0 50%;transform:scaleX(1.03);font-weight:normal;-webkit-text-stroke:0.35px #ccccdc;"><span class="b">03/06</span></div>
<div style="position:absolute;top:581.81px;left:667.02px;font-size:19.03px;letter-spacing:0.732px;color:#ccccdc;white-space:nowrap;line-height:0;font-kerning:none;transform-origin:0 50%;transform:scaleX(1.03);font-weight:normal;-webkit-text-stroke:0.35px #ccccdc;"><span class="b">03/08</span></div>
<div style="position:absolute;top:581.81px;left:762.34px;font-size:19.03px;letter-spacing:0.711px;color:#ccccdc;white-space:nowrap;line-height:0;font-kerning:none;transform-origin:0 50%;transform:scaleX(1.03);font-weight:normal;-webkit-text-stroke:0.35px #ccccdc;"><span class="b">03/<i class="o" style="width:0.4133em;margin-right:0.711px"><svg viewBox="4 0 45 72.7" preserveAspectRatio="none" style="height:0.6878em"><path d="M35 0 L35 72.7 L24.5 72.7 L24.5 13 L4 32 L4 19.5 L25 0 Z"/></svg></i>0</span></div>
<div style="position:absolute;top:581.81px;left:856.26px;font-size:19.03px;letter-spacing:0.764px;color:#ccccdc;white-space:nowrap;line-height:0;font-kerning:none;transform-origin:0 50%;transform:scaleX(1.03);font-weight:normal;-webkit-text-stroke:0.35px #ccccdc;"><span class="b">03/<i class="o" style="width:0.4133em;margin-right:0.764px"><svg viewBox="4 0 45 72.7" preserveAspectRatio="none" style="height:0.6878em"><path d="M35 0 L35 72.7 L24.5 72.7 L24.5 13 L4 32 L4 19.5 L25 0 Z"/></svg></i>2</span></div>
<div style="position:absolute;top:581.81px;left:950.18px;font-size:19.03px;letter-spacing:0.665px;color:#ccccdc;white-space:nowrap;line-height:0;font-kerning:none;transform-origin:0 50%;transform:scaleX(1.03);font-weight:normal;-webkit-text-stroke:0.35px #ccccdc;"><span class="b">03/<i class="o" style="width:0.4133em;margin-right:0.665px"><svg viewBox="4 0 45 72.7" preserveAspectRatio="none" style="height:0.6878em"><path d="M35 0 L35 72.7 L24.5 72.7 L24.5 13 L4 32 L4 19.5 L25 0 Z"/></svg></i>4</span></div>
<div style="position:absolute;top:581.81px;left:1044.10px;font-size:19.03px;letter-spacing:0.734px;color:#ccccdc;white-space:nowrap;line-height:0;font-kerning:none;transform-origin:0 50%;transform:scaleX(1.03);font-weight:normal;-webkit-text-stroke:0.35px #ccccdc;"><span class="b">03/<i class="o" style="width:0.4133em;margin-right:0.734px"><svg viewBox="4 0 45 72.7" preserveAspectRatio="none" style="height:0.6878em"><path d="M35 0 L35 72.7 L24.5 72.7 L24.5 13 L4 32 L4 19.5 L25 0 Z"/></svg></i>6</span></div>
<div style="position:absolute;top:581.81px;left:1138.02px;font-size:19.03px;letter-spacing:0.732px;color:#ccccdc;white-space:nowrap;line-height:0;font-kerning:none;transform-origin:0 50%;transform:scaleX(1.03);font-weight:normal;-webkit-text-stroke:0.35px #ccccdc;"><span class="b">03/<i class="o" style="width:0.4133em;margin-right:0.732px"><svg viewBox="4 0 45 72.7" preserveAspectRatio="none" style="height:0.6878em"><path d="M35 0 L35 72.7 L24.5 72.7 L24.5 13 L4 32 L4 19.5 L25 0 Z"/></svg></i>8</span></div>
<div style="position:absolute;top:581.81px;left:1230.54px;font-size:19.03px;letter-spacing:0.711px;color:#ccccdc;white-space:nowrap;line-height:0;font-kerning:none;transform-origin:0 50%;transform:scaleX(1.03);font-weight:normal;-webkit-text-stroke:0.35px #ccccdc;"><span class="b">03/20</span></div>
<div style="position:absolute;top:581.81px;left:1324.46px;font-size:19.03px;letter-spacing:0.765px;color:#ccccdc;white-space:nowrap;line-height:0;font-kerning:none;transform-origin:0 50%;transform:scaleX(1.03);font-weight:normal;-webkit-text-stroke:0.35px #ccccdc;"><span class="b">03/22</span></div>
<div style="position:absolute;top:581.81px;left:1418.38px;font-size:19.03px;letter-spacing:0.665px;color:#ccccdc;white-space:nowrap;line-height:0;font-kerning:none;transform-origin:0 50%;transform:scaleX(1.03);font-weight:normal;-webkit-text-stroke:0.35px #ccccdc;"><span class="b">03/24</span></div>
<div style="position:absolute;top:581.81px;left:1512.30px;font-size:19.03px;letter-spacing:0.735px;color:#ccccdc;white-space:nowrap;line-height:0;font-kerning:none;transform-origin:0 50%;transform:scaleX(1.03);font-weight:normal;-webkit-text-stroke:0.35px #ccccdc;"><span class="b">03/26</span></div>
<div style="position:absolute;top:581.81px;left:1606.22px;font-size:19.03px;letter-spacing:0.732px;color:#ccccdc;white-space:nowrap;line-height:0;font-kerning:none;transform-origin:0 50%;transform:scaleX(1.03);font-weight:normal;-webkit-text-stroke:0.35px #ccccdc;"><span class="b">03/28</span></div>
<div style="position:absolute;top:581.81px;left:1697.41px;font-size:19.03px;letter-spacing:0.711px;color:#ccccdc;white-space:nowrap;line-height:0;font-kerning:none;transform-origin:0 50%;transform:scaleX(1.03);font-weight:normal;-webkit-text-stroke:0.35px #ccccdc;"><span class="b">03/30</span></div>
<div style="position:absolute;top:581.81px;left:1792.71px;font-size:19.03px;letter-spacing:1.181px;color:#ccccdc;white-space:nowrap;line-height:0;font-kerning:none;transform-origin:0 50%;transform:scaleX(1.03);font-weight:normal;-webkit-text-stroke:0.35px #ccccdc;"><span class="b">04/0<i class="o" style="width:0.4133em;margin-right:1.181px"><svg viewBox="4 0 45 72.7" preserveAspectRatio="none" style="height:0.6878em"><path d="M35 0 L35 72.7 L24.5 72.7 L24.5 13 L4 32 L4 19.5 L25 0 Z"/></svg></i></span></div>
<div style="position:absolute;top:583.51px;left:105.44px;font-size:15.85px;letter-spacing:0.246px;color:#7ebf6e;white-space:nowrap;line-height:0;font-kerning:none;transform-origin:0 50%;transform:scaleX(1.12);font-weight:normal;-webkit-text-stroke:0.6px #7ebf6e;"><span class="b">2026-04-02</span></div>
<div style="position:absolute;top:583.51px;left:203.34px;font-size:15.85px;letter-spacing:-0.351px;color:#7ebf6e;white-space:nowrap;line-height:0;font-kerning:none;transform-origin:0 50%;transform:scaleX(1.12);font-weight:normal;-webkit-text-stroke:0.6px #7ebf6e;"><span class="b">07:49:<i class="o" style="width:0.4139em;margin-right:-0.351px"><svg viewBox="0 0 49 72.7" preserveAspectRatio="none" style="height:0.6878em"><path d="M40 0 L40 72.7 L22.5 72.7 L22.5 21 L2 39 L2 20.5 L24.5 0 Z"/></svg></i>4</span></div>
</div></body></html>
